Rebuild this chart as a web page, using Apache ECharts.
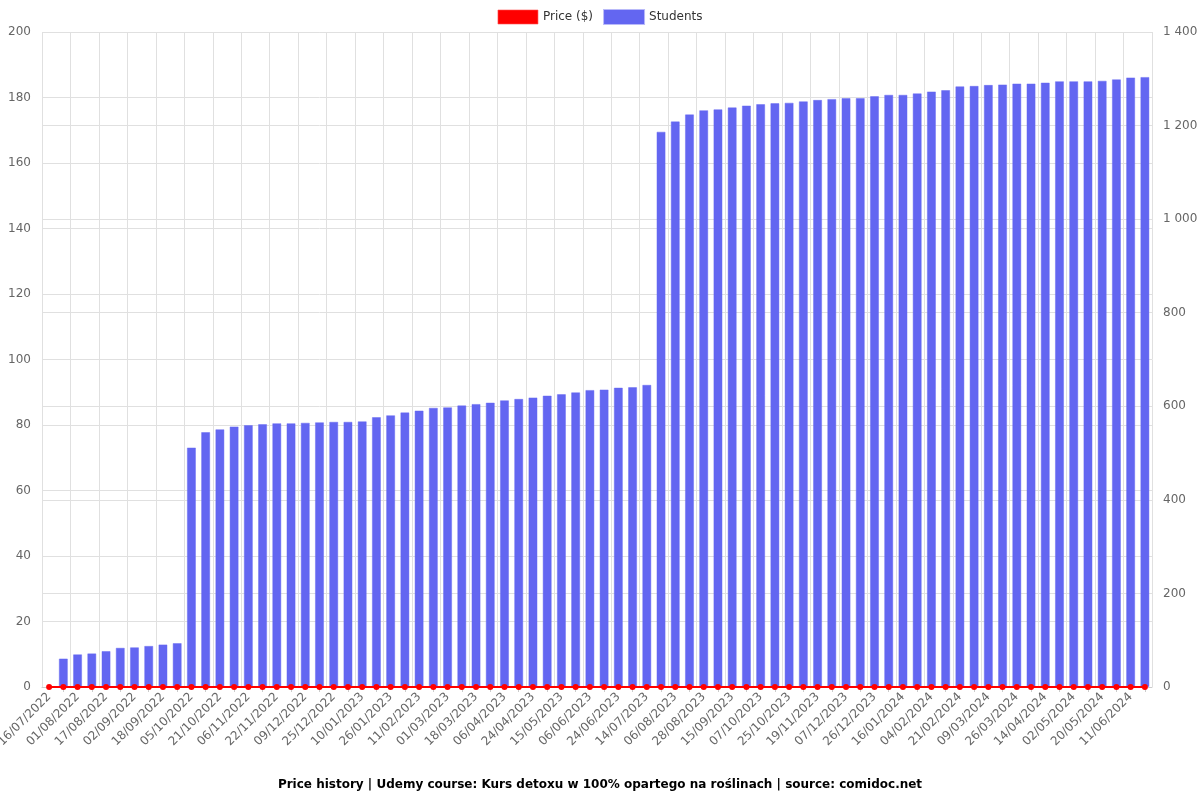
<!DOCTYPE html>
<html>
<head>
<meta charset="utf-8">
<script src="https://cdn.jsdelivr.net/npm/echarts@6/dist/echarts.min.js"></script>
<style>html,body{margin:0;padding:0;background:#fff}#chart{width:1200px;height:800px}</style>
</head>
<body>
<div id="chart"></div>
<script>
const categories = [
'16/07/2022','24/07/2022','01/08/2022','09/08/2022','17/08/2022','25/08/2022','02/09/2022','10/09/2022','18/09/2022','26/09/2022',
'05/10/2022','13/10/2022','21/10/2022','29/10/2022','06/11/2022','14/11/2022','22/11/2022','30/11/2022','09/12/2022','17/12/2022',
'25/12/2022','02/01/2023','10/01/2023','18/01/2023','26/01/2023','03/02/2023','11/02/2023','20/02/2023','01/03/2023','09/03/2023',
'18/03/2023','27/03/2023','06/04/2023','15/04/2023','24/04/2023','04/05/2023','15/05/2023','26/05/2023','06/06/2023','15/06/2023',
'24/06/2023','04/07/2023','14/07/2023','25/07/2023','06/08/2023','17/08/2023','28/08/2023','06/09/2023','15/09/2023','26/09/2023',
'07/10/2023','16/10/2023','25/10/2023','06/11/2023','19/11/2023','28/11/2023','07/12/2023','16/12/2023','26/12/2023','05/01/2024',
'16/01/2024','25/01/2024','04/02/2024','12/02/2024','21/02/2024','29/02/2024','09/03/2024','17/03/2024','26/03/2024','04/04/2024',
'14/04/2024','23/04/2024','02/05/2024','11/05/2024','20/05/2024','31/05/2024','11/06/2024','21/06/2024'
];
const priceValues = [
0,0,0,0,0,0,0,0,0,0, 0,0,0,0,0,0,0,0,0,0, 0,0,0,0,0,0,0,0,0,0, 0,0,0,0,0,0,0,0,0,0,
0,0,0,0,0,0,0,0,0,0, 0,0,0,0,0,0,0,0,0,0, 0,0,0,0,0,0,0,0,0,0, 0,0,0,0,0,0,0,0
];
const studentValues = [
null,61,70,72,77,84,85,88,91,94,
512,545,551,557,560,562,564,564,565,566,
567,567,568,577,581,587,591,597,598,602,
605,608,613,616,619,623,626,630,635,636,
640,641,646,1187,1209,1224,1233,1235,1239,1243,
1246,1248,1249,1252,1255,1257,1259,1259,1263,1266,
1266,1269,1273,1276,1284,1285,1287,1288,1290,1290,
1292,1295,1295,1295,1296,1299,1303,1304
];
const leftTicks = {min: 0, max: 200, interval: 20};
const rightTicks = {min: 0, max: 1400, interval: 200};
const titleText = 'Price history | Udemy course: Kurs detoxu w 100% opartego na roślinach | source: comidoc.net';

function spaceThousands(v) {
  return String(v).replace(/\B(?=(\d{3})+(?!\d))/g, ' ');
}

const n = categories.length;
const gridColor = '#e0e0e0';

const chart = echarts.init(document.getElementById('chart'), null, {renderer: 'canvas'});
chart.setOption({
  animation: false,
  textStyle: {fontFamily: 'DejaVu Sans'},
  title: {
    text: titleText,
    left: 'center',
    top: 774,
    textStyle: {fontSize: 12, fontWeight: 'bold', color: '#000', fontFamily: 'DejaVu Sans'}
  },
  legend: {
    top: 4,
    left: 'center',
    itemWidth: 40,
    itemHeight: 14,
    itemGap: 10,
    textStyle: {fontSize: 12, color: '#333', fontFamily: 'DejaVu Sans'},
    data: [
      {name: 'Price ($)', icon: 'rect', itemStyle: {color: '#ff0000', borderColor: 'rgba(255,80,80,0.6)', borderWidth: 1}},
      {name: 'Students', icon: 'rect'}
    ]
  },
  grid: {left: 42, right: 48, top: 32, bottom: 113, containLabel: false, outerBoundsMode: 'none'},
  xAxis: [
    {
      type: 'category',
      data: categories,
      axisLabel: {rotate: 45, fontSize: 12, color: '#666', interval: 1, fontFamily: 'DejaVu Sans'},
      axisLine: {onZero: false, lineStyle: {color: '#ccc'}},
      axisTick: {show: true, alignWithLabel: true, interval: function (i) { return i % 2 === 1; }, lineStyle: {color: '#ccc'}},
      splitLine: {show: false}
    },
    {
      type: 'value',
      position: 'bottom',
      min: -1.5,
      max: n - 1.5,
      interval: 2,
      axisLabel: {show: false},
      axisTick: {show: false},
      axisLine: {show: false, onZero: false},
      splitLine: {show: true, lineStyle: {color: gridColor}}
    }
  ],
  yAxis: [
    {
      type: 'value',
      min: leftTicks.min, max: leftTicks.max, interval: leftTicks.interval,
      axisLine: {show: false, onZero: false},
      axisTick: {show: false},
      axisLabel: {fontSize: 12, color: '#666', margin: 11, fontFamily: 'DejaVu Sans'},
      splitLine: {show: true, lineStyle: {color: gridColor}}
    },
    {
      type: 'value',
      min: rightTicks.min, max: rightTicks.max, interval: rightTicks.interval,
      axisLine: {show: false, onZero: false},
      axisTick: {show: false},
      axisLabel: {fontSize: 12, color: '#666', margin: 11, formatter: spaceThousands, fontFamily: 'DejaVu Sans'},
      splitLine: {show: true, lineStyle: {color: gridColor}}
    }
  ],
  series: [
    {
      name: 'Price ($)',
      type: 'line',
      xAxisIndex: 0,
      yAxisIndex: 0,
      data: priceValues,
      z: 3,
      symbol: 'circle',
      symbolSize: 6,
      itemStyle: {color: '#ff0000'},
      lineStyle: {color: '#ff0000', width: 2}
    },
    {
      name: 'Students',
      type: 'bar',
      xAxisIndex: 0,
      yAxisIndex: 1,
      data: studentValues,
      barWidth: '64%',
      itemStyle: {color: '#6366f1', borderColor: 'rgba(99,102,241,0.45)', borderWidth: 1}
    }
  ]
});
</script>
</body>
</html>
